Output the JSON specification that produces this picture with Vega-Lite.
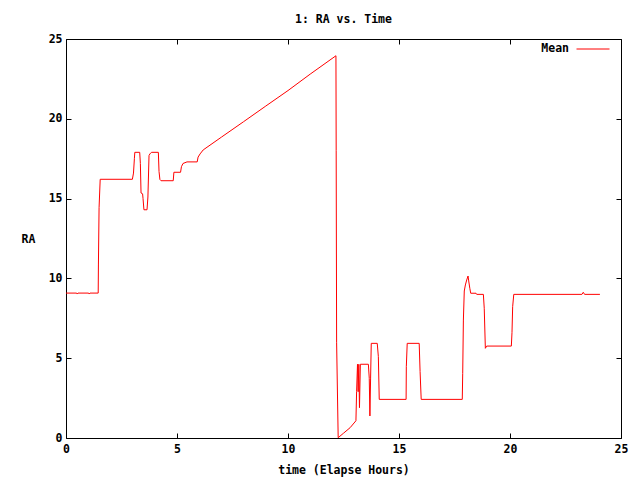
{
  "$schema": "https://vega.github.io/schema/vega-lite/v6.json",
  "width": 555,
  "height": 399,
  "autosize": {"type": "none"},
  "padding": {"left": 66, "top": 39, "right": 19, "bottom": 42},
  "background": "white",
  "title": {"text": "1: RA vs. Time", "font": "DejaVu Sans Mono", "fontSize": 11.5, "fontWeight": "bold", "color": "black", "anchor": "middle", "frame": "group", "offset": -2, "baseline": "alphabetic"},
  "config": {
    "view": {"stroke": "black", "strokeWidth": 1},
    "axis": {
      "labelFont": "DejaVu Sans Mono", "labelFontSize": 11.5, "labelFontWeight": "bold", "labelColor": "black",
      "titleFont": "DejaVu Sans Mono", "titleFontSize": 11.5, "titleFontWeight": "bold", "titleColor": "black",
      "domain": false, "tickColor": "black", "tickSize": 5, "offset": -5, "grid": false, "tickWidth": 1
    },
    "legend": {"labelFont": "DejaVu Sans Mono", "labelFontSize": 11.5, "labelFontWeight": "bold", "labelColor": "black"}
  },
  "data": {"values": [
    {"t": 0, "ra": 9.08}, {"t": 0.48, "ra": 9.08}, {"t": 0.5, "ra": 9.02}, {"t": 0.54, "ra": 9.08},
    {"t": 1.02, "ra": 9.08}, {"t": 1.04, "ra": 9.02}, {"t": 1.08, "ra": 9.08}, {"t": 1.45, "ra": 9.08},
    {"t": 1.46, "ra": 10.84}, {"t": 1.49, "ra": 14.43}, {"t": 1.54, "ra": 16.21}, {"t": 2.99, "ra": 16.21},
    {"t": 3.04, "ra": 16.6}, {"t": 3.08, "ra": 17.5}, {"t": 3.1, "ra": 17.9}, {"t": 3.32, "ra": 17.9},
    {"t": 3.35, "ra": 17.2}, {"t": 3.38, "ra": 15.35}, {"t": 3.45, "ra": 15.3}, {"t": 3.47, "ra": 15.0},
    {"t": 3.51, "ra": 14.3}, {"t": 3.65, "ra": 14.3}, {"t": 3.69, "ra": 15.1}, {"t": 3.74, "ra": 17.7},
    {"t": 3.78, "ra": 17.8}, {"t": 3.85, "ra": 17.9}, {"t": 4.16, "ra": 17.9}, {"t": 4.19, "ra": 16.7},
    {"t": 4.23, "ra": 16.2}, {"t": 4.28, "ra": 16.12}, {"t": 4.83, "ra": 16.12}, {"t": 4.86, "ra": 16.65},
    {"t": 5.16, "ra": 16.65}, {"t": 5.2, "ra": 17.0}, {"t": 5.27, "ra": 17.2}, {"t": 5.45, "ra": 17.3},
    {"t": 5.91, "ra": 17.3}, {"t": 5.95, "ra": 17.6}, {"t": 6.04, "ra": 17.8}, {"t": 6.18, "ra": 18.05},
    {"t": 7, "ra": 18.85}, {"t": 8, "ra": 19.82}, {"t": 9, "ra": 20.8}, {"t": 10, "ra": 21.77},
    {"t": 11, "ra": 22.8}, {"t": 12.16, "ra": 23.95}, {"t": 12.17, "ra": 18.0}, {"t": 12.19, "ra": 6.0},
    {"t": 12.26, "ra": 0.02}, {"t": 12.5, "ra": 0.3}, {"t": 12.8, "ra": 0.65}, {"t": 13.06, "ra": 1.08},
    {"t": 13.09, "ra": 2.9}, {"t": 13.13, "ra": 4.62}, {"t": 13.16, "ra": 2.9}, {"t": 13.19, "ra": 4.62},
    {"t": 13.22, "ra": 1.9}, {"t": 13.26, "ra": 4.62}, {"t": 13.62, "ra": 4.62}, {"t": 13.66, "ra": 3.74},
    {"t": 13.69, "ra": 1.38}, {"t": 13.72, "ra": 3.7}, {"t": 13.75, "ra": 5.93}, {"t": 14.02, "ra": 5.93},
    {"t": 14.07, "ra": 5.1}, {"t": 14.11, "ra": 2.42}, {"t": 15.32, "ra": 2.42}, {"t": 15.33, "ra": 4.47},
    {"t": 15.37, "ra": 5.93}, {"t": 15.91, "ra": 5.93}, {"t": 15.95, "ra": 4.16}, {"t": 16.0, "ra": 2.42},
    {"t": 17.85, "ra": 2.42}, {"t": 17.87, "ra": 4.05}, {"t": 17.9, "ra": 7.39}, {"t": 17.94, "ra": 9.21},
    {"t": 17.99, "ra": 9.59}, {"t": 18.05, "ra": 9.9}, {"t": 18.11, "ra": 10.15}, {"t": 18.14, "ra": 9.84},
    {"t": 18.19, "ra": 9.38}, {"t": 18.23, "ra": 9.07}, {"t": 18.47, "ra": 9.07}, {"t": 18.5, "ra": 9.0},
    {"t": 18.8, "ra": 9.0}, {"t": 18.84, "ra": 8.13}, {"t": 18.89, "ra": 5.62}, {"t": 18.95, "ra": 5.76},
    {"t": 20.06, "ra": 5.76}, {"t": 20.09, "ra": 6.6}, {"t": 20.12, "ra": 8.23}, {"t": 20.17, "ra": 9.0},
    {"t": 23.24, "ra": 9.0}, {"t": 23.3, "ra": 9.13}, {"t": 23.36, "ra": 9.0}, {"t": 24.05, "ra": 9.0}
  ]},
  "layer": [
    {
      "mark": {"type": "line", "strokeWidth": 1, "interpolate": "linear"},
      "encoding": {
        "x": {"field": "t", "type": "quantitative", "scale": {"domain": [0, 25], "nice": false, "zero": false},
              "axis": {"orient": "bottom", "values": [0, 5, 10, 15, 20, 25], "labelPadding": 5, "labelBaseline": "top", "title": "time (Elapse Hours)", "titleY": 37, "titleBaseline": "middle", "labelFlush": false}},
        "y": {"field": "ra", "type": "quantitative", "scale": {"domain": [0, 25], "nice": false},
              "axis": {"orient": "left", "values": [0, 5, 10, 15, 20, 25], "labelPadding": 4, "title": "RA", "titleAngle": 0, "titleX": -43, "titleY": 200, "titleAlign": "center", "titleBaseline": "middle", "labelFlush": false}},
        "color": {"datum": "Mean", "type": "nominal", "scale": {"range": ["#ff0000"]},
                  "legend": {"title": null, "orient": "none", "legendX": 510, "legendY": -7, "padding": 0, "symbolType": "stroke", "symbolSize": 1089, "symbolStrokeWidth": 1, "labelAlign": "right", "labelOffset": -41}}
      }
    },
    {
      "mark": {"type": "line", "opacity": 0},
      "encoding": {
        "x": {"field": "t", "type": "quantitative", "axis": {"orient": "top", "values": [0, 5, 10, 15, 20, 25], "labels": false, "title": null}},
        "y": {"field": "ra", "type": "quantitative", "axis": {"orient": "right", "values": [0, 5, 10, 15, 20, 25], "labels": false, "title": null}}
      }
    }
  ],
  "resolve": {"axis": {"x": "independent", "y": "independent"}}
}
